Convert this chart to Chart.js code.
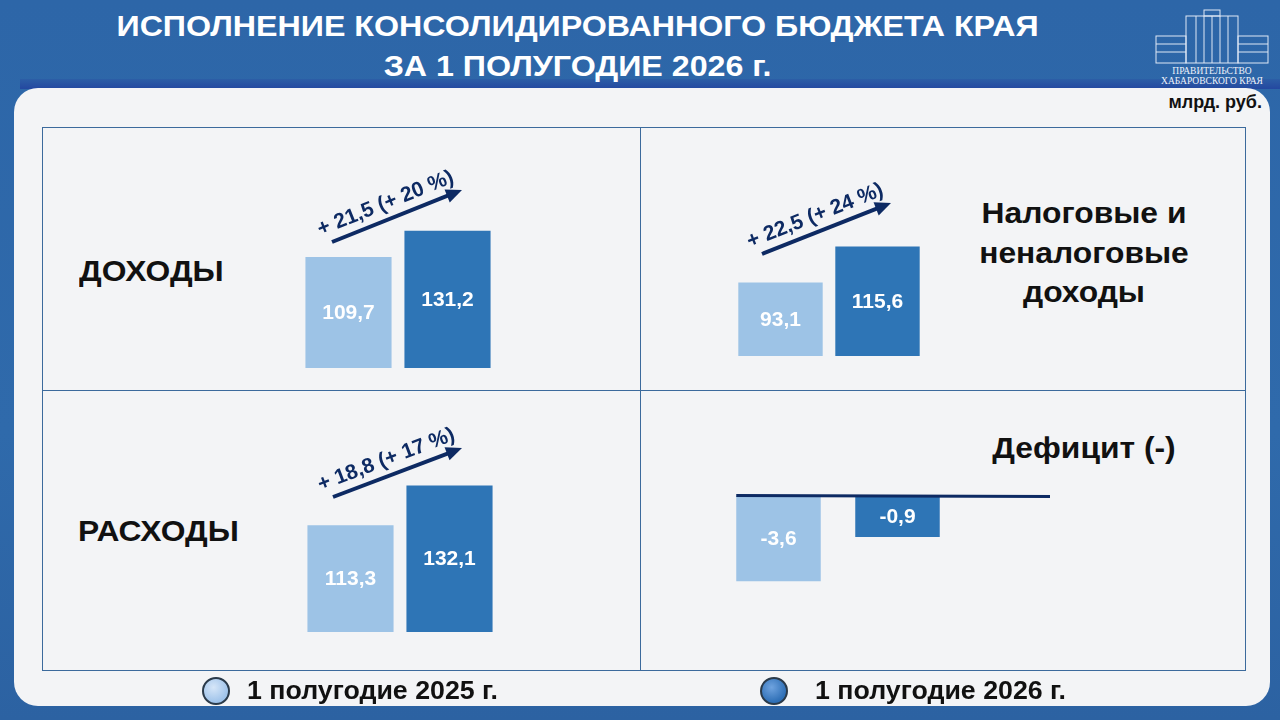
<!DOCTYPE html>
<html lang="ru">
<head>
<meta charset="utf-8">
<title>Исполнение консолидированного бюджета края</title>
<script src="https://cdn.jsdelivr.net/npm/chart.js@4/dist/chart.umd.min.js"></script>
<style>
  html, body { margin: 0; padding: 0; }
  body { width: 1280px; height: 720px; overflow: hidden; font-family: "Liberation Sans", Arial, sans-serif; }
  #slide { position: relative; width: 1280px; height: 720px; background: linear-gradient(180deg, #2d66a8 0%, #2f6aab 60%, #2c62a2 100%); }
  .abs { position: absolute; }
  #title { left: 0; width: 1155px; top: 6px; text-align: center; color: #fff; font-weight: bold; font-size: 29px; line-height: 40px; transform: scaleX(1.11); transform-origin: 577px 0; }
  #band { left: 20px; top: 79px; width: 1260px; height: 10px; background: linear-gradient(180deg, #2c5ea6, #2448a0); }
  #panel { left: 14px; top: 88px; width: 1256px; height: 618px; background: #f3f4f6; border-radius: 24px; }
  #units { right: 18px; top: 92px; font-weight: bold; font-size: 18px; color: #111; }
  .cell { border: 1px solid #3b6a9c; box-sizing: border-box; }
  .label { font-weight: bold; font-size: 30px; color: #111; line-height: 39.5px; transform: scaleX(1.06); transform-origin: 0 0; }
  .label.mid { transform-origin: 50% 0; }
  .box { position: absolute; }
  .legend { font-weight: bold; font-size: 25px; color: #111; line-height: 30px; transform: scaleX(1.07); transform-origin: 0 0; }
  .dot { width: 24px; height: 24px; border-radius: 50%; border: 2px solid #2a3a4a; }
</style>
</head>
<body>
<div id="slide">
  <div id="band" class="abs"></div>
  <div id="title" class="abs">ИСПОЛНЕНИЕ КОНСОЛИДИРОВАННОГО БЮДЖЕТА КРАЯ<br>ЗА 1 ПОЛУГОДИЕ 2026 г.</div>

  <svg class="abs" style="left:1150px;top:6px" width="125" height="82" viewBox="0 0 125 82">
    <g fill="none" stroke="#dfe8f5" stroke-width="1">
      <rect x="6" y="30" width="30" height="27"/>
      <rect x="88" y="30" width="30" height="27"/>
      <rect x="36" y="10" width="52" height="47"/>
      <line x1="46" y1="10" x2="46" y2="57"/><line x1="54" y1="10" x2="54" y2="57"/>
      <line x1="62" y1="10" x2="62" y2="57"/><line x1="70" y1="10" x2="70" y2="57"/>
      <line x1="78" y1="10" x2="78" y2="57"/>
      <line x1="6" y1="38" x2="36" y2="38"/><line x1="6" y1="46" x2="36" y2="46"/>
      <line x1="88" y1="38" x2="118" y2="38"/><line x1="88" y1="46" x2="118" y2="46"/>
      <rect x="54" y="4" width="16" height="6"/>
    </g>
    <text x="62" y="68" fill="#eef3fa" font-family="Liberation Serif, serif" font-size="9.5" text-anchor="middle">ПРАВИТЕЛЬСТВО</text>
    <text x="62" y="78" fill="#eef3fa" font-family="Liberation Serif, serif" font-size="9.5" text-anchor="middle">ХАБАРОВСКОГО КРАЯ</text>
  </svg>

  <div id="panel" class="abs"></div>
  <div id="units" class="abs">млрд. руб.</div>

  <div class="abs cell" style="left:42px;top:127px;width:599px;height:264px"></div>
  <div class="abs cell" style="left:640px;top:127px;width:606px;height:264px"></div>
  <div class="abs cell" style="left:42px;top:390px;width:599px;height:281px"></div>
  <div class="abs cell" style="left:640px;top:390px;width:606px;height:281px"></div>

  <div class="abs label" style="left:79px;top:251px">ДОХОДЫ</div>
  <div class="abs label" style="left:78px;top:511px">РАСХОДЫ</div>
  <div class="abs label mid" style="left:964px;top:193px;width:240px;text-align:center">Налоговые и<br>неналоговые<br>доходы</div>
  <div class="abs label mid" style="left:964px;top:428px;width:240px;text-align:center">Дефицит (-)</div>

  <div class="box" style="left:299px;top:220px;width:198px;height:148px"><canvas id="revChart"></canvas></div>
  <div class="box" style="left:732px;top:230px;width:194px;height:126px"><canvas id="taxChart"></canvas></div>
  <div class="box" style="left:301px;top:475px;width:198px;height:157px"><canvas id="spendChart"></canvas></div>
  <div class="box" style="left:719px;top:490px;width:336px;height:106px"><canvas id="defChart"></canvas></div>

  <svg id="arrows" class="abs" style="left:0;top:0" width="1280" height="720"></svg>

  <div class="abs dot" style="left:202px;top:677px;background:radial-gradient(circle at 40% 35%, #d6e6f8, #9fc3ea 70%)"></div>
  <div class="abs legend" style="left:247px;top:675px" id="leg1"></div>
  <div class="abs dot" style="left:760px;top:677px;background:radial-gradient(circle at 40% 35%, #6fa3df, #2e6fb6 70%)"></div>
  <div class="abs legend" style="left:815px;top:675px" id="leg2"></div>
</div>

<script>
const periods = ['1 полугодие 2025 г.', '1 полугодие 2026 г.'];
const revenue = [109.7, 131.2];
const taxRevenue = [93.1, 115.6];
const spending = [113.3, 132.1];
const deficit = [-3.6, -0.9];

const lightBlue = '#9dc3e6';
const darkBlue = '#2e75b6';
const navy = '#0d2a63';

document.getElementById('leg1').textContent = periods[0];
document.getElementById('leg2').textContent = periods[1];

const fmt = (v) => v.toFixed(1).replace('.', ',');

// value in the middle of the visible part of each bar
const valueLabels = {
    id: 'valueLabels',
    afterDatasetsDraw(chart) {
        const ctx = chart.ctx;
        const area = chart.chartArea;
        const ds = chart.data.datasets[0];
        chart.getDatasetMeta(0).data.forEach((bar, i) => {
            const top = Math.max(Math.min(bar.y, bar.base), area.top);
            const bottom = Math.min(Math.max(bar.y, bar.base), area.bottom);
            ctx.save();
            ctx.fillStyle = '#fff';
            ctx.font = 'bold 21px "Liberation Sans", Arial, sans-serif';
            ctx.textAlign = 'center';
            ctx.textBaseline = 'middle';
            ctx.fillText(fmt(ds.data[i]), bar.x, (top + bottom) / 2 + 1);
            ctx.restore();
        });
    },
};

// line along the zero level of the deficit chart
const baseLine = {
    id: 'baseLine',
    afterDatasetsDraw(chart) {
        const ctx = chart.ctx;
        const first = chart.getDatasetMeta(0).data[0];
        const y = chart.scales.y.getPixelForValue(chart.data.datasets[0].base);
        ctx.save();
        ctx.strokeStyle = navy;
        ctx.lineWidth = 3;
        ctx.beginPath();
        ctx.moveTo(first.x - first.width / 2, y - 0.5);
        ctx.lineTo(chart.width - 5, y + 0.5);
        ctx.stroke();
        ctx.restore();
    },
};

const makeBars = (id, values, yMin, yMax, extra) => {
    extra = extra || {};
    return new Chart(document.getElementById(id), {
        type: 'bar',
        data: {
            labels: periods,
            datasets: [
                Object.assign({
                    data: values,
                    backgroundColor: [lightBlue, darkBlue],
                    borderWidth: 0,
                    categoryPercentage: 1,
                    barPercentage: extra.barPct || 0.87,
                }, extra.dataset || {}),
            ],
        },
        options: {
            responsive: true,
            maintainAspectRatio: false,
            animation: false,
            layout: { padding: extra.padding || 0 },
            plugins: { legend: { display: false }, tooltip: { enabled: false } },
            scales: {
                x: { display: false },
                y: { display: false, min: yMin, max: yMax },
            },
        },
        plugins: extra.plugins || [valueLabels],
    });
};

makeBars('revChart', revenue, 19, 140);
makeBars('taxChart', taxRevenue, 47, 126);
makeBars('spendChart', spending, 63, 137);
makeBars('defChart', deficit, -4.5, 1.6, {
    barPct: 0.71,
    dataset: { base: 1.6 },
    padding: { top: 6, right: 98 },
    plugins: [valueLabels, baseLine],
});

// growth arrows with difference and percent
const svg = document.getElementById('arrows');
const NS = 'http://www.w3.org/2000/svg';
const drawArrow = (tail, tip, values) => {
    const dx = tip[0] - tail[0];
    const dy = tip[1] - tail[1];
    const len = Math.sqrt(dx * dx + dy * dy);
    const ang = Math.atan2(dy, dx) * 180 / Math.PI;
    const g = document.createElementNS(NS, 'g');
    g.setAttribute('transform', `translate(${tail[0]},${tail[1]}) rotate(${ang})`);
    const line = document.createElementNS(NS, 'line');
    line.setAttribute('x1', 0); line.setAttribute('y1', 0);
    line.setAttribute('x2', len - 12); line.setAttribute('y2', 0);
    line.setAttribute('stroke', navy); line.setAttribute('stroke-width', 4);
    g.appendChild(line);
    const head = document.createElementNS(NS, 'polygon');
    head.setAttribute('points', `${len},0 ${len - 16},-7 ${len - 16},7`);
    head.setAttribute('fill', navy);
    g.appendChild(head);
    const diff = values[1] - values[0];
    const pct = Math.round(diff / values[0] * 100);
    const t = document.createElementNS(NS, 'text');
    t.setAttribute('x', len / 2 - 6);
    t.setAttribute('y', -10);
    t.setAttribute('text-anchor', 'middle');
    t.setAttribute('fill', navy);
    t.setAttribute('font-weight', 'bold');
    t.setAttribute('font-size', '21');
    t.setAttribute('font-family', 'Liberation Sans, Arial, sans-serif');
    t.textContent = `+ ${fmt(diff)} (+ ${pct} %)`;
    g.appendChild(t);
    svg.appendChild(g);
};

drawArrow([332, 242], [462, 190], revenue);
drawArrow([762, 254], [891, 203], taxRevenue);
drawArrow([333, 497], [462, 448], spending);
</script>
</body>
</html>
